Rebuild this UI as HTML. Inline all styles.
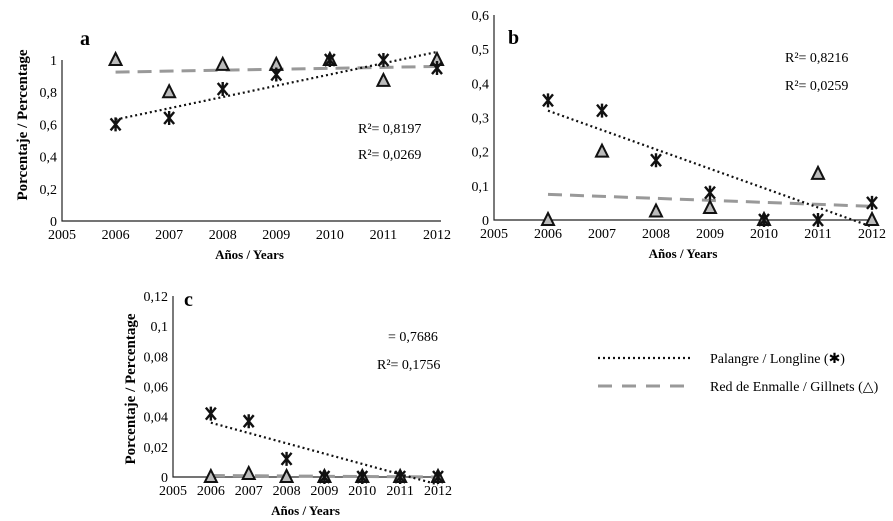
<!DOCTYPE html>
<html><head><meta charset="utf-8">
<style>
body{margin:0;background:#fff;}
svg{display:block;font-family:"Liberation Serif",serif;}
</style></head>
<body>
<svg id="s" width="893" height="521"></svg>
<script>
const years=[2006,2007,2008,2009,2010,2011,2012];
const xTicks=[2005,2006,2007,2008,2009,2010,2011,2012];
const aLong=[0.6,0.64,0.82,0.91,1.0,1.0,0.95];
const aGill=[1.0,0.8,0.97,0.97,1.0,0.87,1.0];
const aLongTrend=[0.63,1.05];
const aGillTrend=[0.925,0.96];
const aYTicks=[0,0.2,0.4,0.6,0.8,1];
const aYLabels=["0","0,2","0,4","0,6","0,8","1"];
const bLong=[0.35,0.32,0.175,0.08,0,0,0.05];
const bGill=[0,0.2,0.025,0.035,0,0.135,0];
const bLongTrend=[0.32,-0.02];
const bGillTrend=[0.075,0.04];
const bYTicks=[0,0.1,0.2,0.3,0.4,0.5,0.6];
const bYLabels=["0","0,1","0,2","0,3","0,4","0,5","0,6"];
const cLong=[0.042,0.037,0.012,0,0,0,0];
const cGill=[0,0.002,0,0,0,0,0];
const cLongTrend=[0.036,-0.005];
const cGillTrend=[0.001,0];
const cYTicks=[0,0.02,0.04,0.06,0.08,0.1,0.12];
const cYLabels=["0","0,02","0,04","0,06","0,08","0,1","0,12"];

const NS="http://www.w3.org/2000/svg";
const svg=document.getElementById('s');
function mk(tag,attrs,parent,text){const e=document.createElementNS(NS,tag);for(const k in attrs)e.setAttribute(k,attrs[k]);if(text!==undefined)e.textContent=text;(parent||svg).appendChild(e);return e;}

function panel(id,P,long,gill,lt,gt,yt,yl,letter,r2,ytitle){
  const g=mk('g',{});
  
  
  const X=v=>P.x0+(v-2005)*(P.x1-P.x0)/7;
  const Y=v=>P.y0-(v/P.ymax)*(P.y0-P.y1);
  const ax=mk('path',{d:`M${X(2005)},${Y(P.ymax)} V${P.y0} H${X(2012)+4}`,stroke:'#222',fill:'none','stroke-width':1.2},g);
  
  
  yt.forEach((v,i)=>{const t=mk('text',{x:X(2005)-5,y:Y(v)+5,'text-anchor':'end','font-size':P.fs},g,yl[i]);
    
    });
  xTicks.forEach(v=>{const t=mk('text',{x:X(v),y:P.y0+18,'text-anchor':'middle','font-size':P.fs},g,String(v));
    
    });
  const xt=mk('text',{x:(X(2005)+X(2012))/2,y:P.y0+38,'text-anchor':'middle','font-size':13,'font-weight':'bold'},g,'Años / Years');
  
  
  if(ytitle){const yy=ytitle[1];const t=mk('text',{x:ytitle[0],y:yy,'text-anchor':'middle','font-size':15,'font-weight':'bold',transform:`rotate(-90 ${ytitle[0]} ${yy})`},g,'Porcentaje / Percentage');
    
    }
  const L=mk('text',{x:letter[0],y:letter[1],'font-size':20,'font-weight':'bold'},g,id);
  
  
  r2.forEach(r=>{const t=mk('text',{x:r[0],y:r[1],'font-size':14},g,r[2]);
    
    });
  const gl=mk('line',{x1:X(2006),y1:Y(gt[0]),x2:X(2012),y2:Y(gt[1]),stroke:'#999','stroke-width':3,'stroke-dasharray':'14,8'},g);
  
  
  const ll=mk('line',{x1:X(2006),y1:Y(lt[0]),x2:X(2012),y2:Y(lt[1]),stroke:'#111','stroke-width':2.2,'stroke-dasharray':'2,3'},g);
  
  
  years.forEach((yr,i)=>{const cx=X(yr),cy=Y(gill[i]);
    const t=mk('path',{d:`M${cx},${cy-7} L${cx+6},${cy+5} L${cx-6},${cy+5} Z`,fill:'#bbb',stroke:'#111','stroke-width':2},g);
    
    });
  years.forEach((yr,i)=>{const cx=X(yr),cy=Y(long[i]);
    const p=mk('path',{d:`M${cx-5},${cy-6} L${cx+5},${cy+6} M${cx+5},${cy-6} L${cx-5},${cy+6} M${cx},${cy-7} V${cy+7}`,stroke:'#111','stroke-width':2.4,fill:'none'},g);
    
    });
}
panel('a',{x0:62,x1:437,y0:221,y1:60,ymax:1,fs:14},aLong,aGill,aLongTrend,aGillTrend,aYTicks,aYLabels,[80,45],[[358,133,'R²= 0,8197'],[358,159,'R²= 0,0269']],[27,125]);
panel('b',{x0:494,x1:872,y0:220,y1:15,ymax:0.6,fs:14},bLong,bGill,bLongTrend,bGillTrend,bYTicks,bYLabels,[508,44],[[785,62,'R²= 0,8216'],[785,90,'R²= 0,0259']],null);
panel('c',{x0:173,x1:438,y0:477,y1:296,ymax:0.12,fs:14},cLong,cGill,cLongTrend,cGillTrend,cYTicks,cYLabels,[184,306],[[388,341,'= 0,7686'],[377,369,'R²= 0,1756']],[135,389]);

const lg=mk('g',{});


const l1=mk('line',{x1:598,y1:358,x2:692,y2:358,stroke:'#111','stroke-width':2.2,'stroke-dasharray':'2,3'},lg);


const t1=mk('text',{x:710,y:363,'font-size':14},lg,'Palangre / Longline  (✱)');


const l2=mk('line',{x1:598,y1:386,x2:692,y2:386,stroke:'#999','stroke-width':3,'stroke-dasharray':'14,10'},lg);


const t2=mk('text',{x:710,y:391,'font-size':14},lg,'Red de Enmalle / Gillnets (△)');


</script>
</body></html>
